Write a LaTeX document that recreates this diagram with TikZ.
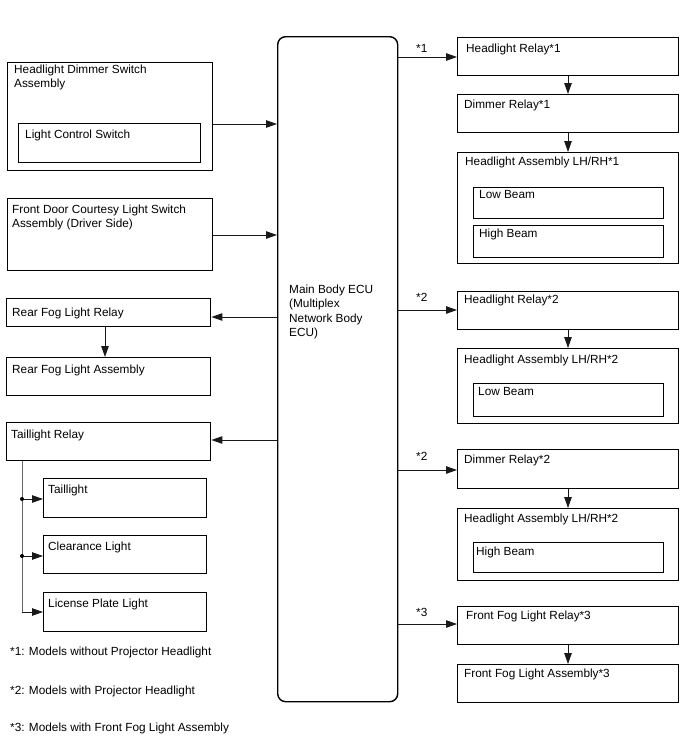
\documentclass[tikz,border=0pt]{standalone}
\usepackage{fontspec}
\setmainfont{Liberation Sans}
\usetikzlibrary{arrows.meta,calc}
\tikzset{
  box/.style={draw=black, line width=1.4pt, inner sep=0pt, anchor=north west},
  ecubox/.style={box, rounded corners=8pt},
  txt/.style={anchor=base west, inner sep=0pt, font=\fontsize{11.8}{14.3}\selectfont, text=black},
  arr/.style={draw=black!90, line width=0.9pt, -{Triangle[length=11pt,width=7.5pt]}},
  trunk/.style={draw=black!60, line width=0.9pt},
  jdot/.style={circle, fill=black, inner sep=0pt, minimum size=4pt}
}
\begin{document}
\begin{tikzpicture}[x=1pt,y=-1pt]
\useasboundingbox (0,0) rectangle (688,755);
\fill[white] (0,0) rectangle (688,755);

% Main ECU
\node[ecubox, minimum width=120pt, minimum height=665pt] (ecu) at (277,36) {};
\node[txt] (ecut1) at (289,293) {Main Body ECU};
\node[txt] (ecut2) at (289,307.5) {(Multiplex};
\node[txt] (ecut3) at (289,322) {Network Body};
\node[txt] (ecut4) at (289,336.5) {ECU)};

% Left side
\node[box, minimum width=205pt, minimum height=108pt] (hds) at (7,62) {};
\node[txt] (hdst1) at (14,73) {Headlight Dimmer Switch};
\node[txt] (hdst2) at (14,87) {Assembly};
\node[box, minimum width=182pt, minimum height=39pt] (lcs) at (18,123) {};
\node[txt] (lcst) at (25,138) {Light Control Switch};

\node[box, minimum width=205pt, minimum height=72pt] (fdc) at (7,198) {};
\node[txt] (fdct1) at (12,213) {Front Door Courtesy Light Switch};
\node[txt] (fdct2) at (12,227) {Assembly (Driver Side)};

\node[box, minimum width=204pt, minimum height=28pt] (rfr) at (6,298) {};
\node[txt] (rfrt) at (12,316) {Rear Fog Light Relay};
\node[box, minimum width=204pt, minimum height=38pt] (rfa) at (6,357) {};
\node[txt] (rfat) at (12,373) {Rear Fog Light Assembly};

\node[box, minimum width=204pt, minimum height=38pt] (tlr) at (6,422) {};
\node[txt] (tlrt) at (11,438) {Taillight Relay};
\node[box, minimum width=163pt, minimum height=39pt] (tl) at (43,478) {};
\node[txt] (tlt) at (48,493) {Taillight};
\node[box, minimum width=163pt, minimum height=38pt] (cl) at (43,535) {};
\node[txt] (clt) at (48,550) {Clearance Light};
\node[box, minimum width=163pt, minimum height=39pt] (lpl) at (43,592) {};
\node[txt] (lplt) at (48,607) {License Plate Light};

% Right side
\node[box, minimum width=221pt, minimum height=38pt] (hr1) at (457,37) {};
\node[txt] (hr1t) at (466,52) {Headlight Relay*1};
\node[box, minimum width=221pt, minimum height=38pt] (dr1) at (457,94) {};
\node[txt] (dr1t) at (464,108) {Dimmer Relay*1};
\node[box, minimum width=221pt, minimum height=111pt] (ha1) at (457,152) {};
\node[txt] (ha1t) at (465,165) {Headlight Assembly LH/RH*1};
\node[box, minimum width=190pt, minimum height=31pt] (lb1) at (473,187) {};
\node[txt] (lb1t) at (479,198.5) {Low Beam};
\node[box, minimum width=190pt, minimum height=32pt] (hb1) at (473,225) {};
\node[txt] (hb1t) at (479,237) {High Beam};

\node[box, minimum width=221pt, minimum height=38pt] (hr2) at (457,291) {};
\node[txt] (hr2t) at (464,303) {Headlight Relay*2};
\node[box, minimum width=221pt, minimum height=75pt] (ha2) at (457,348) {};
\node[txt] (ha2t) at (464,363) {Headlight Assembly LH/RH*2};
\node[box, minimum width=190pt, minimum height=33pt] (lb2) at (473,383) {};
\node[txt] (lb2t) at (478,395) {Low Beam};

\node[box, minimum width=221pt, minimum height=39pt] (dr2) at (457,449) {};
\node[txt] (dr2t) at (464,463) {Dimmer Relay*2};
\node[box, minimum width=221pt, minimum height=72pt] (ha3) at (457,508) {};
\node[txt] (ha3t) at (464,522) {Headlight Assembly LH/RH*2};
\node[box, minimum width=190pt, minimum height=30pt] (hb2) at (473,542) {};
\node[txt] (hb2t) at (476,555) {High Beam};

\node[box, minimum width=221pt, minimum height=38pt] (ffr) at (457,606) {};
\node[txt] (ffrt) at (466,619) {Front Fog Light Relay*3};
\node[box, minimum width=221pt, minimum height=38pt] (ffa) at (457,664) {};
\node[txt] (ffat) at (464,677) {Front Fog Light Assembly*3};

% Connector labels
\node[txt] (l1) at (416,52) {*1};
\node[txt] (l2) at (416,301) {*2};
\node[txt] (l3) at (416,460) {*2};
\node[txt] (l4) at (416,616) {*3};

% Footnotes
\node[txt] (fn1) at (10,655) {*1: Models without Projector Headlight};
\node[txt] (fn2) at (10,694) {*2: Models with Projector Headlight};
\node[txt] (fn3) at (10,731) {*3: Models with Front Fog Light Assembly};

% Connectors left -> ECU
\draw[arr] (hds.east |- 0,124) -- (ecu.west |- 0,124);
\draw[arr] (fdc.east |- 0,235) -- (ecu.west |- 0,235);
\draw[arr] (ecu.west |- 0,317) -- (rfr.east |- 0,317);
\draw[arr] (ecu.west |- 0,440) -- (tlr.east |- 0,440);
\draw[arr] (rfr.south -| 105,0) -- (rfa.north -| 105,0);

% Taillight trunk
\coordinate (tk0) at (tlr.south -| 22,0);
\coordinate (tk1) at (22,499);
\coordinate (tk2) at (22,556);
\coordinate (tk3) at (22,612);
\draw[trunk] (tk0) -- (tk3);
\draw[arr] (tk1) -- (tl.west |- tk1);
\draw[arr] (tk2) -- (cl.west |- tk2);
\draw[arr] (tk3) -- (lpl.west |- tk3);
\node[jdot] (d1) at (tk1) {};
\node[jdot] (d2) at (tk2) {};

% Right connectors
\draw[arr] (ecu.east |- 0,57) -- (hr1.west |- 0,57);
\draw[arr] (ecu.east |- 0,310) -- (hr2.west |- 0,310);
\draw[arr] (ecu.east |- 0,470) -- (dr2.west |- 0,470);
\draw[arr] (ecu.east |- 0,624) -- (ffr.west |- 0,624);
\draw[arr] (hr1.south -| 568,0) -- (dr1.north -| 568,0);
\draw[arr] (dr1.south -| 568,0) -- (ha1.north -| 568,0);
\draw[arr] (hr2.south -| 568,0) -- (ha2.north -| 568,0);
\draw[arr] (dr2.south -| 568,0) -- (ha3.north -| 568,0);
\draw[arr] (ffr.south -| 568,0) -- (ffa.north -| 568,0);
\end{tikzpicture}
\end{document}
